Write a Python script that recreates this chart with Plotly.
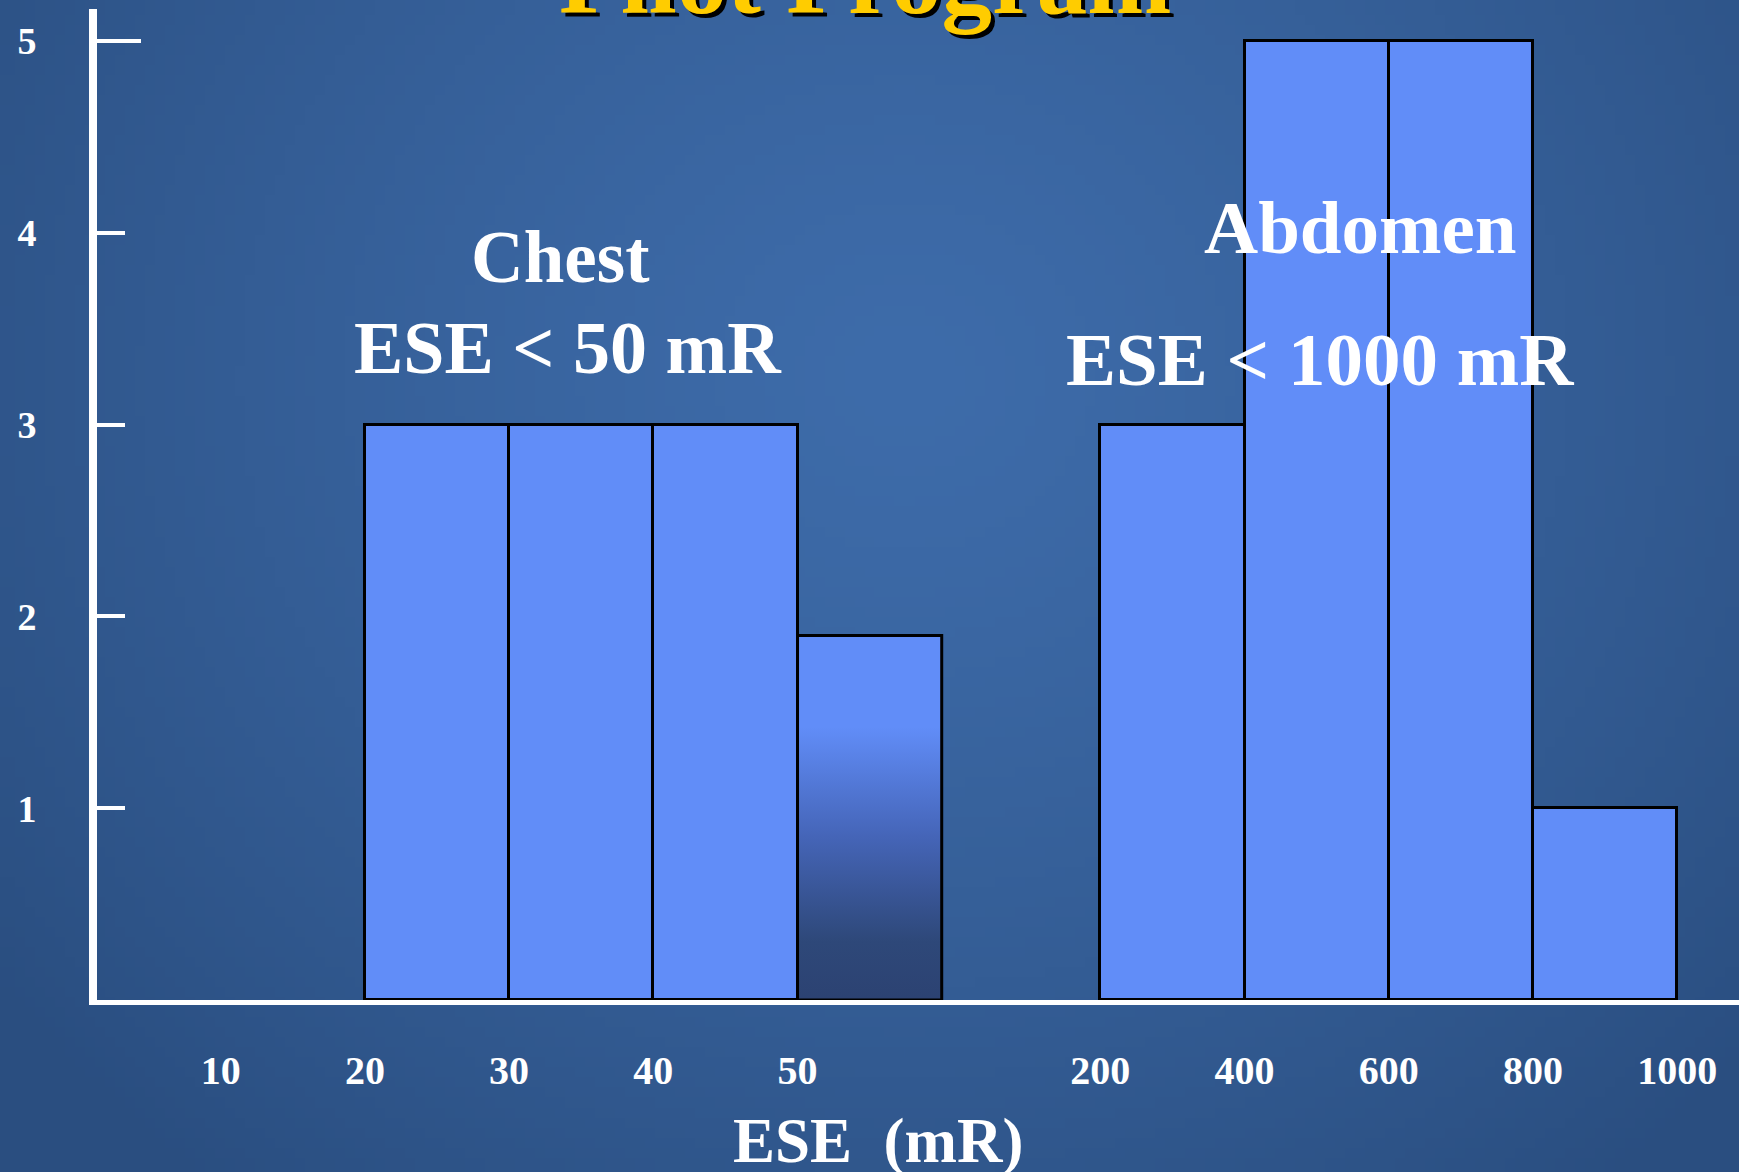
import base64
import struct
import zlib

import numpy as np
import plotly.graph_objects as go

# ---- data -------------------------------------------------------------
chest_edges = ["10", "20", "30", "40", "50"]
chest_counts = [3, 3, 3, 1.9]
abdomen_edges = ["200", "400", "600", "800", "1000"]
abdomen_counts = [3, 5, 5, 1]
y_ticks = [1, 2, 3, 4, 5]

# ---- layout constants ---------------------------------------------------
W, H = 1739, 1172
M_L, M_R, M_T, M_B = 97, 0, 9, 172
ABD_OFFSET = 6.1          # axis position of the first abdomen edge
SHADED_BIN = 3            # chest bin drawn with a dark fade
SERIF = "Liberation Serif, Times New Roman, serif"
BAR_BLUE = "#618DF8"

# axis positions: chest edge i sits at x=i, bins span consecutive edges
chest_edge_x = list(range(len(chest_edges)))
chest_bin_x = [i + 1.5 for i in range(len(chest_counts))]
abd_edge_x = [ABD_OFFSET + j for j in range(len(abdomen_edges))]
abd_bin_x = [ABD_OFFSET + j + 0.5 for j in range(len(abdomen_counts))]


def png_uri(arr):
    """Encode an (h, w, 3) uint8 array as a PNG data URI."""
    h, w, _ = arr.shape
    raw = b"".join(b"\x00" + arr[r].tobytes() for r in range(h))

    def chunk(tag, data):
        c = struct.pack(">I", len(data)) + tag + data
        return c + struct.pack(">I", zlib.crc32(tag + data) & 0xFFFFFFFF)

    png = b"\x89PNG\r\n\x1a\n"
    png += chunk(b"IHDR", struct.pack(">IIBBBBB", w, h, 8, 2, 0, 0, 0))
    png += chunk(b"IDAT", zlib.compress(raw, 9))
    png += chunk(b"IEND", b"")
    return "data:image/png;base64," + base64.b64encode(png).decode()


# soft slide-style backdrop: lighter blue in the upper middle, darker edges
gw, gh = 174, 117
gx, gy = np.meshgrid(np.linspace(0, 1, gw), np.linspace(0, 1, gh))
d = np.sqrt(((gx - 0.52) / 0.66) ** 2 + ((gy - 0.32) / 0.9) ** 2)
t = np.clip(d, 0, 1) ** 1.3
inner = np.array([62, 108, 170], float)
outer = np.array([42, 78, 128], float)
bg = (inner[None, None, :] * (1 - t[..., None]) + outer[None, None, :] * t[..., None])
bg_uri = png_uri(bg.astype(np.uint8))

pw = W - M_L - M_R
ph = H - M_T - M_B

fig = go.Figure()

# histogram bars
fig.add_trace(go.Bar(
    x=chest_bin_x + abd_bin_x,
    y=chest_counts + abdomen_counts,
    width=1,
    marker=dict(color=BAR_BLUE, line=dict(color="black", width=3)),
    hoverinfo="x+y",
    showlegend=False,
))

# faded chest bin drawn on top as a gradient-filled outline
sx = chest_bin_x[SHADED_BIN]
sy = chest_counts[SHADED_BIN]
fig.add_trace(go.Scatter(
    x=[sx - 0.5, sx + 0.5, sx + 0.5, sx - 0.5, sx - 0.5],
    y=[0, 0, sy, sy, 0],
    mode="lines",
    fill="toself",
    fillgradient=dict(
        type="vertical",
        colorscale=[
            [0.0, "#2c4272"],
            [0.16, "#2e4879"],
            [0.45, "#4565b8"],
            [0.75, BAR_BLUE],
            [1.0, BAR_BLUE],
        ],
    ),
    line=dict(color="black", width=3),
    hoverinfo="skip",
    showlegend=False,
))

axis_font = dict(family=SERIF, color="white", weight="bold")

fig.update_layout(
    width=W,
    height=H,
    margin=dict(l=M_L, r=M_R, t=M_T, b=M_B, pad=0),
    paper_bgcolor="#335e98",
    plot_bgcolor="rgba(0,0,0,0)",
    showlegend=False,
    bargap=0,
    images=[dict(
        source=bg_uri,
        xref="paper", yref="paper",
        x=-M_L / pw, y=1 + M_T / ph,
        sizex=W / pw, sizey=H / ph,
        xanchor="left", yanchor="top",
        sizing="stretch", layer="below",
    )],
    xaxis=dict(
        range=[-0.858, 10.529],
        showgrid=False, zeroline=False,
        showline=True, linecolor="white", linewidth=5,
        ticks="",
        tickvals=chest_edge_x + abd_edge_x,
        ticktext=chest_edges + abdomen_edges,
        tickfont=dict(size=40, **axis_font),
        ticklabelstandoff=31,
    ),
    yaxis=dict(
        range=[0, 5.167],
        showgrid=False, zeroline=False,
        showline=True, linecolor="white", linewidth=8,
        ticks="inside", ticklen=28, tickwidth=4, tickcolor="white",
        tickvals=y_ticks,
        ticktext=[str(v) for v in y_ticks],
        tickfont=dict(size=38, **axis_font),
        ticklabelstandoff=45,
    ),
    # longer top tick on the count axis
    yaxis2=dict(
        overlaying="y", side="left",
        range=[0, 5.167],
        showgrid=False, zeroline=False, showline=False,
        ticks="inside", ticklen=44, tickwidth=4, tickcolor="white",
        tickvals=[y_ticks[-1]], showticklabels=False,
    ),
)

# invisible anchor so yaxis2 is drawn
fig.add_trace(go.Scatter(x=[None], y=[None], yaxis="y2", showlegend=False,
                         hoverinfo="skip"))

notes = [
    ("Chest", 2.353, 3.869, 73),
    ("ESE < 50 mR", 2.41, 3.399, 74),
    ("Abdomen", 7.905, 4.03, 75),
    ("ESE < 1000 mR", 7.62, 3.337, 75),
]
for text, x, y, size in notes:
    fig.add_annotation(text=text, x=x, y=y, xref="x", yref="y",
                       xanchor="center", yanchor="middle",
                       showarrow=False,
                       font=dict(family=SERIF, size=size, color="white",
                                 weight="bold"))

# x-axis caption
fig.add_annotation(text="ESE\u00a0\u00a0(mR)", x=(878 - M_L) / pw, y=-0.1425,
                   xref="paper", yref="paper", xanchor="center",
                   yanchor="middle", showarrow=False,
                   font=dict(family=SERIF, size=63, color="white",
                             weight="bold"))

# slide title with drop shadow
title_y = 1 + (M_T + 21) / ph
for color, dx, dy in [("black", 4, -4), ("#FFCC00", 0, 0)]:
    fig.add_annotation(text="Pilot Program", x=(865 - M_L) / pw, y=title_y,
                       xref="paper", yref="paper", xanchor="center",
                       yanchor="middle", xshift=dx, yshift=dy,
                       showarrow=False,
                       font=dict(family=SERIF, size=101, color=color,
                                 weight="bold"))

fig.write_html("out.html")
